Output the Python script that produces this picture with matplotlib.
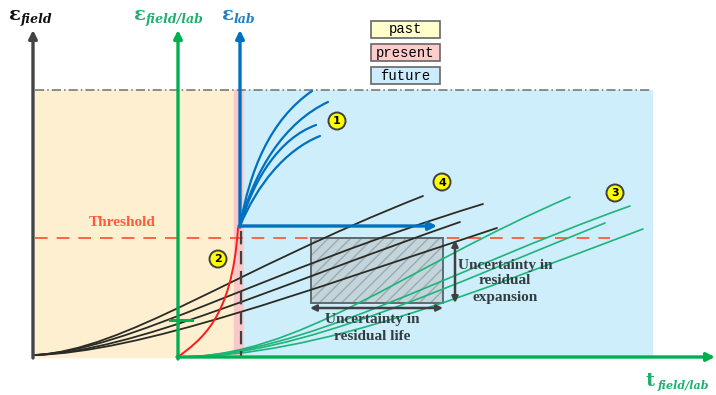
import matplotlib.pyplot as plt
from matplotlib.path import Path
from matplotlib.patches import PathPatch, Rectangle, Circle

# schematic drawn in pixel units (x right, y down)
W, H = 716, 395

field_x0, field_y0 = 35, 357      # black (field) origin
lab_x0, lab_y0 = 178, 357         # green (field/lab) origin
now_x, now_y = 240, 226           # blue (lab) origin = present time
top_y = 90
future_end = 652
threshold_y = 238

# curve families as cubic bezier control points
blue_curves = [
    [(240, 226), (250, 170), (270, 120), (312, 91)],
    [(240, 226), (254, 170), (285, 122), (328, 102)],
    [(240, 226), (254, 178), (280, 138), (316, 125)],
    [(240, 226), (257, 185), (285, 150), (320, 136)],
]
black_curves = [
    [(35, 355), (125, 350), (230, 272), (423, 196)],
    [(35, 355), (130, 350), (260, 272), (483, 204)],
    [(35, 355), (135, 351), (270, 288), (460, 222)],
    [(35, 355), (140, 352), (300, 293), (497, 228)],
]
green_curves = [
    [(178, 357), (300, 357), (400, 270), (570, 197)],
    [(178, 357), (300, 357), (450, 270), (630, 206)],
    [(178, 357), (300, 357), (450, 285), (605, 223)],
    [(178, 357), (320, 357), (480, 290), (643, 229)],
]
red_curve = [(178, 357), (200, 340), (232, 320), (238, 228)]

markers = {'1': (337, 121), '2': (218, 259), '3': (615, 193), '4': (442, 182)}
periods = ['past', 'present', 'future']
period_colors = ['#FFFFCC', '#FFCCCC', '#CCECFF']

c_green = '#00B050'
c_blue = '#0070C0'
c_red = '#FF5a3c'
c_text = '#333d40'
serif = 'Liberation Serif'


def bezier(ax, pts, color, lw=1.2, ls='-', z=3):
    path = Path(pts, [Path.MOVETO, Path.CURVE4, Path.CURVE4, Path.CURVE4])
    ax.add_patch(PathPatch(path, fill=False, edgecolor=color, lw=lw, ls=ls,
                           zorder=z, capstyle='round'))


def arrow(ax, start, end, color, lw=2.4, scale=12, style='-|>', z=6):
    ax.annotate('', xy=end, xytext=start,
                arrowprops=dict(arrowstyle=style, color=color, lw=lw,
                                mutation_scale=scale, shrinkA=0, shrinkB=0),
                zorder=z)


fig = plt.figure(figsize=(W / 100, H / 100), dpi=100)
ax = fig.add_axes([0, 0, 1, 1])
ax.set_xlim(0, W)
ax.set_ylim(H, 0)
ax.axis('off')

# period backgrounds
ax.add_patch(Rectangle((field_x0, top_y), 234 - field_x0, field_y0 - top_y,
                       color='#FDEFD0', zorder=0))
ax.add_patch(Rectangle((234, top_y), 10, field_y0 - top_y,
                       color='#F9C9C9', zorder=0))
ax.add_patch(Rectangle((244, top_y), future_end - 244, field_y0 - top_y,
                       color='#CDEEFA', zorder=0))
ax.plot([field_x0, future_end], [top_y, top_y], color='#707070', lw=1.1,
        ls=(0, (6, 2, 1, 2)), zorder=1)

# threshold
ax.plot([field_x0, 610], [threshold_y, threshold_y], color=c_red, lw=1.3,
        ls=(0, (7, 5)), zorder=2)
ax.text(122, 222, 'Threshold', color=c_red, fontsize=11, weight='bold',
        family=serif, ha='center', va='center')

# present marker line
ax.plot([now_x + 1, now_x + 1], [now_y + 5, field_y0], color='#404040', lw=1.6,
        ls=(0, (6, 3)), zorder=4)

# uncertainty box: light fill, sparse hatching, dark border
ax.add_patch(Rectangle((311, threshold_y), 132, 65, facecolor='#c3d4db',
                       edgecolor='#9aabb2', hatch='///', lw=0, zorder=2))
ax.add_patch(Rectangle((311, threshold_y), 132, 65, fill=False,
                       edgecolor='#5b6b70', lw=1.4, zorder=2))

for pts in black_curves:
    bezier(ax, pts, '#2b2b25', lw=1.3)
for pts in green_curves:
    bezier(ax, pts, '#1fb37a', lw=1.2)
for pts in blue_curves:
    bezier(ax, pts, c_blue, lw=1.6)
bezier(ax, red_curve, '#ff1a1a', lw=1.4)

# axes
arrow(ax, (field_x0 - 2, field_y0 + 1), (field_x0 - 2, 30), '#444444')
arrow(ax, (lab_x0, lab_y0 + 2), (lab_x0, 30), c_green)
arrow(ax, (lab_x0 - 1, lab_y0), (W - 1, lab_y0), c_green)
arrow(ax, (now_x, now_y + 1), (now_x, 30), c_blue)
arrow(ax, (now_x - 1, now_y), (437, now_y), c_blue)
ax.plot([170, 192], [320, 320], color=c_green, lw=2.2, zorder=6)

# uncertainty arrows and notes
arrow(ax, (443, 308), (310, 308), '#404040', lw=1.8, scale=9, style='<|-|>')
arrow(ax, (455, 303), (455, 240), '#404040', lw=1.8, scale=9, style='<|-|>')
ax.text(372, 328, 'Uncertainty in\nresidual life', color=c_text,
        fontsize=11, weight='bold', family=serif, ha='center',
        va='center', linespacing=1.3)
ax.text(505, 281, 'Uncertainty in\nresidual\nexpansion', color=c_text,
        fontsize=11, weight='bold', family=serif, ha='center',
        va='center', linespacing=1.3)

# numbered markers
for label, (cx, cy) in markers.items():
    ax.add_patch(Circle((cx, cy), 8.5, facecolor='#FFFF00', edgecolor='#404040',
                        lw=1.4, zorder=7))
    ax.text(cx, cy + 0.5, label, fontsize=8, weight='bold', ha='center',
            va='center', zorder=8)

# period legend
for i, (name, col) in enumerate(zip(periods, period_colors)):
    y = 21 + i * 23
    ax.add_patch(Rectangle((371, y), 69, 17, facecolor=col, edgecolor='#666666',
                           lw=1.2, zorder=5))
    ax.text(405.5, y + 8.5, name, family='Liberation Mono', fontsize=10,
            ha='center', va='center', zorder=6)


# axis titles
def axis_title(x, y, sym, sub, color, subsize=9):
    ax.text(x, y, sym, color=color, fontsize=14, family='DejaVu Serif',
            weight='bold', ha='left', va='baseline')
    ax.text(x + 12, y + 3, sub, color=color, fontsize=subsize,
            family='DejaVu Serif', style='italic', weight='bold',
            ha='left', va='baseline')


axis_title(9, 20, 'ε', 'field', '#111111')
axis_title(134, 20, 'ε', 'field/lab', '#1fb070')
axis_title(222, 20, 'ε', 'lab', '#1f80c8')
axis_title(646, 386, 't', 'field/lab', '#1fb070', subsize=8)

fig.savefig('out.png', dpi=100)
